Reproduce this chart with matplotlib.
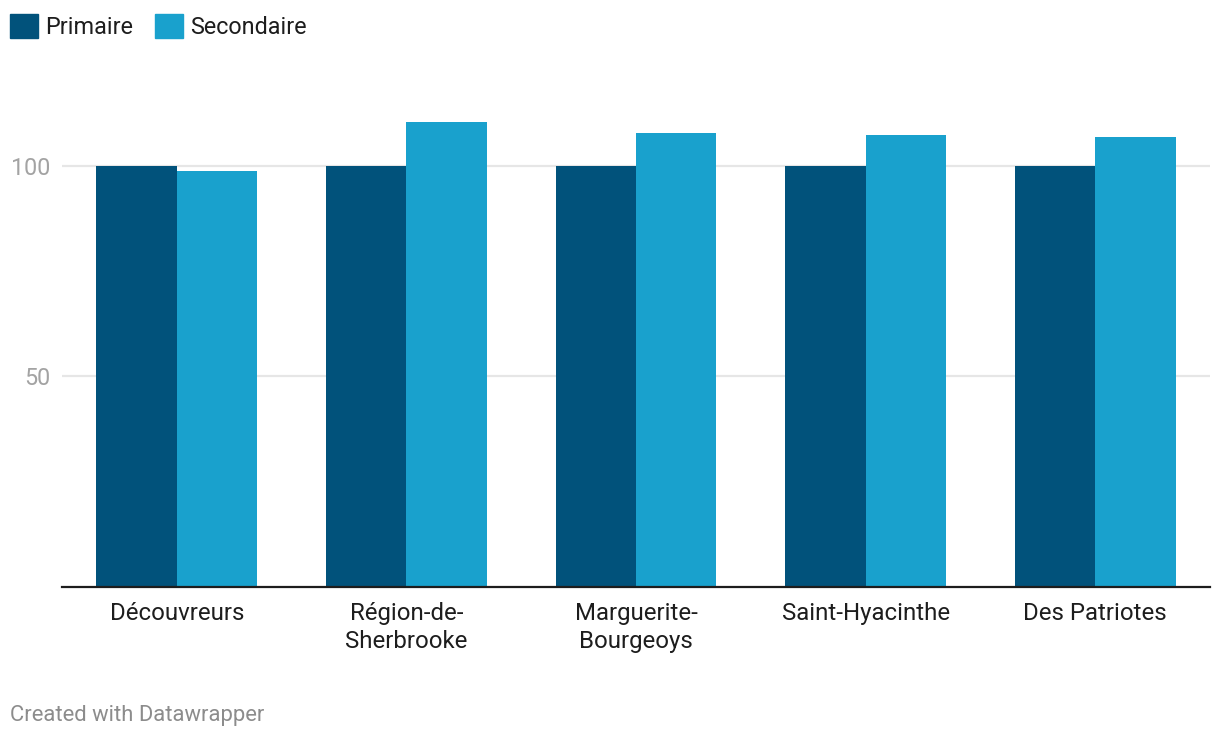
import matplotlib.pyplot as plt
import numpy as np
from matplotlib.patches import Patch

#----------Data-------------------------------------
categories = ["Découvreurs", "Région-de-\nSherbrooke", "Marguerite-\nBourgeoys",
              "Saint-Hyacinthe", "Des Patriotes"]
primaire = [100, 100, 100, 100, 100]
secondaire = [98.8, 110.5, 107.8, 107.4, 106.9]
series_names = ["Primaire", "Secondaire"]
yticks = [50, 100]

#----------Style------------------------------------
plt.rcParams['font.family'] = ['Roboto', 'DejaVu Sans']
c_prim = "#01527b"
c_sec = "#19a1cd"
W, H = 1220, 738

fig = plt.figure(figsize=(W / 100, H / 100), dpi=100)
ax = fig.add_axes([62 / W, 151 / H, (1210 - 62) / W, (587 - 111) / H])

#----------Bars-------------------------------------
x = np.arange(len(categories))
bw = 0.35
ax.bar(x - bw / 2, primaire, bw, color=c_prim, zorder=3)
ax.bar(x + bw / 2, secondaire, bw, color=c_sec, zorder=3)

ax.set_xlim(-0.5, len(categories) - 0.5)
ax.set_ylim(0, 113)

ax.set_yticks(yticks)
ax.set_yticklabels([str(v) for v in yticks], fontsize=16.8, color="#a3a3a3")
ax.tick_params(axis='y', length=0, pad=8.5)
ax.grid(axis='y', color="#e6e6e6", linewidth=1.6, zorder=0)

ax.set_xticks(x)
ax.set_xticklabels(categories, fontsize=17.3, color="#1d1d1d", linespacing=1.32)
ax.tick_params(axis='x', length=0, pad=10.5)

for s in ['top', 'right', 'left']:
    ax.spines[s].set_visible(False)
ax.spines['bottom'].set_color("#1d1d1d")
ax.spines['bottom'].set_linewidth(1.6)
ax.spines['bottom'].set_zorder(4)

#----------Legend-----------------------------------
handles = [Patch(color=c_prim), Patch(color=c_sec)]
fig.legend(handles, series_names, loc='upper left',
           bbox_to_anchor=(10 / W, 1 - 14 / H), ncol=2, frameon=False,
           fontsize=16.8, handlelength=1.2, handleheight=1.2,
           handletextpad=0.3, columnspacing=0.93, borderpad=0,
           borderaxespad=0, labelcolor="#1d1d1d")

#----------Footer-----------------------------------
fig.text(10 / W, 1 - 721 / H, "Created with Datawrapper", fontsize=15.8,
         color="#8c8c8c", va='baseline', ha='left')

fig.savefig('out.png', dpi=100)
